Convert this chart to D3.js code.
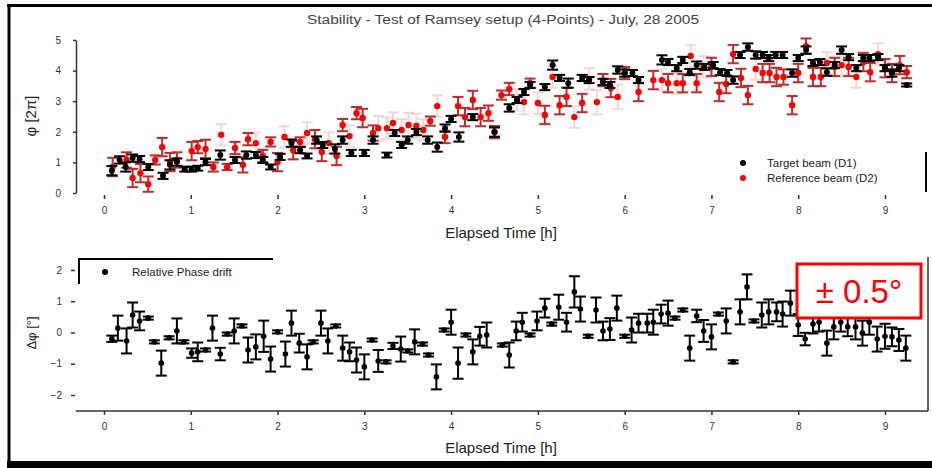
<html>
<head>
  <meta charset="utf-8"/>
  <title>Stability</title>
  <style>
    body { margin: 0; background: #fff; }
    svg text { font-family: "Liberation Sans", Arial, sans-serif; }
  </style>
</head>
<body>
  <svg id="chart" width="932" height="468"></svg>

  <script src="https://d3js.org/d3.v7.min.js"></script>
  <script>

  //top panel, target beam (D1): time [h], value, error
  var blackT = [0.09,0.18,0.25,0.33,0.41,0.51,0.68,0.76,0.84,0.93,1.01,1.08,1.17,1.34,1.51,1.64,1.75,1.83,1.92,2.03,2.16,2.26,2.34,2.45,2.52,2.66,2.75,2.85,3.00,3.10,3.26,3.35,3.43,3.50,3.60,3.73,3.84,3.93,4.00,4.09,4.25,4.50,4.67,4.76,4.84,4.91,5.08,5.17,5.25,5.35,5.51,5.59,5.75,5.83,5.92,6.00,6.09,6.16,6.43,6.50,6.60,6.67,6.75,6.83,6.92,7.02,7.10,7.18,7.25,7.33,7.42,7.51,7.59,7.66,7.74,7.82,7.93,8.00,8.09,8.17,8.25,8.33,8.42,8.50,8.58,8.67,8.75,8.82,8.92,9.00,9.08,9.16,9.25];
  var blackV = [0.73,1.08,0.85,1.14,1.11,0.85,0.56,0.92,1.01,0.78,0.78,0.81,1.01,1.24,1.08,1.24,1.24,1.08,0.85,1.18,1.63,1.40,1.21,1.73,1.57,1.44,1.73,1.31,1.31,1.73,1.24,1.96,1.57,1.73,1.99,1.73,1.50,2.12,2.42,1.83,2.48,1.99,2.78,3.04,3.30,3.53,3.46,4.18,3.76,3.59,3.76,3.69,3.63,3.53,4.02,3.92,3.92,3.69,4.35,4.28,4.08,4.35,3.95,4.18,4.12,4.18,3.95,3.92,3.69,4.51,4.77,4.51,4.51,4.41,4.51,4.51,3.92,4.41,4.67,4.25,4.28,3.95,4.18,4.67,4.44,4.08,4.41,4.41,4.44,4.08,3.92,4.08,3.53];
  var blackE = [0.15,0.12,0.15,0.12,0.10,0.10,0.10,0.15,0.12,0.08,0.08,0.08,0.10,0.15,0.10,0.12,0.10,0.10,0.08,0.10,0.12,0.10,0.08,0.12,0.10,0.15,0.12,0.10,0.10,0.12,0.08,0.10,0.10,0.12,0.10,0.12,0.15,0.12,0.10,0.15,0.10,0.15,0.12,0.10,0.10,0.10,0.10,0.15,0.10,0.15,0.10,0.10,0.10,0.10,0.12,0.12,0.10,0.10,0.15,0.10,0.10,0.10,0.10,0.12,0.10,0.10,0.10,0.10,0.12,0.10,0.12,0.12,0.10,0.10,0.10,0.10,0.12,0.10,0.12,0.10,0.10,0.12,0.10,0.12,0.10,0.10,0.10,0.10,0.10,0.10,0.12,0.10,0.05];

  //top panel, reference beam (D2)
  var redT = [0.10,0.26,0.33,0.42,0.51,0.59,0.67,0.76,0.84,1.01,1.08,1.17,1.26,1.35,1.42,1.51,1.60,1.66,1.75,1.83,1.92,2.00,2.08,2.18,2.26,2.34,2.43,2.51,2.59,2.68,2.75,2.83,2.91,2.98,3.10,3.16,3.26,3.33,3.43,3.51,3.60,3.68,3.76,3.84,3.93,4.08,4.16,4.25,4.34,4.43,4.50,4.58,4.67,4.76,4.84,4.91,5.00,5.08,5.17,5.25,5.33,5.42,5.51,5.59,5.68,5.75,5.84,5.92,6.00,6.16,6.33,6.43,6.50,6.60,6.67,6.76,6.83,6.91,7.00,7.09,7.17,7.25,7.34,7.42,7.51,7.59,7.67,7.75,7.83,7.93,8.00,8.09,8.17,8.26,8.33,8.42,8.50,8.58,8.67,8.75,8.83,8.92,9.00,9.08,9.17,9.25];
  var redV = [0.85,1.08,0.49,0.65,0.29,1.08,1.50,1.01,1.08,1.37,1.50,1.44,0.85,1.90,0.85,1.47,0.92,1.76,1.63,1.21,1.67,1.01,1.83,1.40,1.67,1.96,1.76,1.34,1.63,1.21,2.22,1.86,2.61,2.45,1.96,2.12,2.12,2.29,2.06,2.22,2.19,2.06,2.35,2.84,1.83,2.84,2.48,3.04,2.48,2.61,1.99,3.20,3.40,3.04,2.97,3.59,2.94,2.55,3.79,2.87,3.14,2.48,2.94,3.73,2.97,3.69,3.43,3.14,3.92,3.30,3.69,3.69,3.59,3.59,3.59,4.48,3.59,4.12,4.12,3.30,3.56,4.54,3.76,3.20,4.05,3.92,3.92,3.79,3.79,2.87,3.92,4.80,3.79,3.79,4.25,4.12,4.18,4.12,3.79,4.28,3.95,4.54,4.08,3.92,4.18,3.95];
  var redE = [0.30,0.25,0.30,0.30,0.25,0.15,0.30,0.30,0.25,0.30,0.20,0.30,0.15,0.35,0.10,0.20,0.25,0.20,0.35,0.20,0.15,0.30,0.35,0.30,0.15,0.35,0.30,0.30,0.35,0.30,0.20,0.35,0.20,0.30,0.25,0.40,0.35,0.35,0.35,0.40,0.40,0.35,0.15,0.35,0.20,0.30,0.30,0.30,0.30,0.25,0.20,0.15,0.20,0.35,0.40,0.15,0.35,0.30,0.35,0.30,0.30,0.35,0.30,0.35,0.40,0.20,0.30,0.40,0.20,0.30,0.30,0.35,0.30,0.35,0.30,0.35,0.30,0.35,0.30,0.30,0.30,0.30,0.30,0.30,0.35,0.30,0.30,0.30,0.25,0.30,0.30,0.25,0.30,0.30,0.35,0.30,0.35,0.30,0.35,0.30,0.30,0.35,0.30,0.30,0.30,0.20];

  //bottom panel, relative phase drift [deg]
  var driftT = [0.09,0.16,0.26,0.33,0.41,0.51,0.58,0.66,0.75,0.84,0.92,1.01,1.08,1.17,1.25,1.34,1.42,1.50,1.59,1.66,1.75,1.84,1.92,2.00,2.09,2.16,2.25,2.34,2.41,2.50,2.58,2.67,2.75,2.83,2.91,3.00,3.09,3.16,3.25,3.33,3.42,3.50,3.58,3.67,3.74,3.83,3.92,4.00,4.08,4.17,4.25,4.33,4.41,4.59,4.67,4.75,4.82,4.91,4.99,5.08,5.16,5.24,5.33,5.42,5.49,5.58,5.67,5.75,5.83,5.91,6.00,6.08,6.16,6.26,6.33,6.42,6.50,6.58,6.67,6.75,6.83,6.91,7.00,7.08,7.17,7.25,7.33,7.41,7.49,7.58,7.66,7.75,7.82,7.91,8.00,8.08,8.17,8.24,8.33,8.41,8.49,8.57,8.66,8.74,8.82,8.91,9.00,9.08,9.16,9.24];
  var driftV = [-0.20,0.14,-0.27,0.56,0.37,0.46,-0.30,-0.98,-0.17,0.05,-0.30,-0.66,-0.62,-0.56,0.14,-0.69,-0.05,0.05,0.21,-0.56,-0.46,-0.12,-0.85,0.02,-0.69,0.30,-0.34,-0.78,-0.30,0.30,-0.27,0.21,-0.50,-0.62,-0.88,-1.10,-0.24,-0.91,-0.94,-0.43,-0.53,-0.59,-0.30,-0.37,-0.72,-1.42,0.08,0.33,-0.98,-0.08,-0.62,-0.12,-0.08,-0.40,-0.72,0.05,0.33,-0.08,0.37,0.78,0.27,0.81,0.33,1.30,0.75,-0.12,0.72,0.05,0.11,0.78,-0.12,0.08,0.30,0.30,0.33,0.59,0.62,0.46,0.72,-0.50,0.53,0.05,-0.14,0.59,0.37,-0.94,0.66,1.46,0.37,0.56,0.66,0.66,0.59,0.94,0.24,-0.21,0.27,0.33,-0.34,0.18,0.33,0.18,0.18,-0.02,0.33,-0.21,-0.12,-0.14,-0.24,-0.50];
  var driftE = [0.10,0.40,0.40,0.40,0.30,0.05,0.05,0.40,0.05,0.40,0.05,0.15,0.30,0.05,0.40,0.20,0.05,0.40,0.05,0.40,0.40,0.50,0.40,0.05,0.40,0.40,0.30,0.40,0.05,0.40,0.40,0.05,0.40,0.30,0.40,0.40,0.05,0.35,0.05,0.10,0.40,0.05,0.40,0.05,0.05,0.40,0.05,0.40,0.50,0.05,0.40,0.30,0.40,0.05,0.40,0.30,0.30,0.05,0.30,0.30,0.05,0.40,0.30,0.50,0.40,0.05,0.40,0.30,0.35,0.40,0.05,0.40,0.30,0.30,0.40,0.30,0.40,0.05,0.05,0.40,0.20,0.35,0.40,0.05,0.40,0.05,0.40,0.40,0.05,0.40,0.40,0.30,0.40,0.40,0.35,0.20,0.30,0.30,0.40,0.40,0.30,0.30,0.40,0.40,0.40,0.40,0.40,0.30,0.35,0.40];

  var hourTicks = [0,1,2,3,4,5,6,7,8,9];
  var topTicks = [0,1,2,3,4,5];
  var driftTicks = [-2,-1,0,1,2];

  var svg = d3.select("#chart");

  //scales
  var x = d3.scaleLinear().domain([0, 9]).range([104, 885]);
  var yTop = d3.scaleLinear().domain([0, 5]).range([193, 40]);
  var yBot = d3.scaleLinear().domain([-2, 2]).range([395, 270]);

  function zip(t, v, e){
    return t.map(function(d, i){ return {t: d, v: v[i], e: e[i]}; });
  }

  //draws points with vertical error bars and caps
  function errorSeries(data, yScale, barColor, dotColor, dotR, faint){
    var g = svg.append("g");
    var bars = g.selectAll("g.eb").data(data).enter().append("g")
      .attr("class", "eb")
      .attr("stroke", barColor)
      .attr("stroke-width", 2)
      .attr("opacity", function(d){ return faint && d.e >= 0.35 ? 0.18 : 1; });
    bars.append("line")
      .attr("x1", function(d){ return x(d.t); })
      .attr("x2", function(d){ return x(d.t); })
      .attr("y1", function(d){ return yScale(d.v - d.e); })
      .attr("y2", function(d){ return yScale(d.v + d.e); });
    bars.append("line")
      .attr("x1", function(d){ return x(d.t) - 5.5; })
      .attr("x2", function(d){ return x(d.t) + 5.5; })
      .attr("y1", function(d){ return yScale(d.v + d.e); })
      .attr("y2", function(d){ return yScale(d.v + d.e); });
    bars.append("line")
      .attr("x1", function(d){ return x(d.t) - 5.5; })
      .attr("x2", function(d){ return x(d.t) + 5.5; })
      .attr("y1", function(d){ return yScale(d.v - d.e); })
      .attr("y2", function(d){ return yScale(d.v - d.e); });
    g.selectAll("circle").data(data).enter().append("circle")
      .attr("cx", function(d){ return x(d.t); })
      .attr("cy", function(d){ return yScale(d.v); })
      .attr("r", dotR)
      .attr("fill", dotColor);
  }

  //outer frame
  svg.append("line").attr("x1", 7).attr("x2", 932).attr("y1", 5.5).attr("y2", 5.5)
    .attr("stroke", "#000").attr("stroke-width", 3);
  svg.append("line").attr("x1", 9).attr("x2", 9).attr("y1", 4).attr("y2", 468)
    .attr("stroke", "#000").attr("stroke-width", 3);
  svg.append("line").attr("x1", 7).attr("x2", 932).attr("y1", 464.5).attr("y2", 464.5)
    .attr("stroke", "#000").attr("stroke-width", 7);

  //title
  svg.append("text")
    .attr("x", 307).attr("y", 24)
    .attr("textLength", 392).attr("lengthAdjust", "spacingAndGlyphs")
    .attr("font-size", "12px").attr("fill", "#444")
    .text("Stability - Test of Ramsey setup (4-Points) - July, 28 2005");

  // ---------- top panel ----------
  var gxTop = svg.append("g").attr("transform", "translate(0,195)")
    .call(d3.axisBottom(x).tickValues(hourTicks).tickSize(4).tickPadding(8).tickFormat(d3.format("d")));
  gxTop.select(".domain").remove();

  var gyTop = svg.append("g").attr("transform", "translate(76,0)")
    .call(d3.axisLeft(yTop).tickValues(topTicks).tickSize(3).tickSizeOuter(0).tickPadding(12).tickFormat(d3.format("d")));

  errorSeries(zip(redT, redV, redE), yTop, "#c42a2a", "#ff0000", 3.2, true);
  errorSeries(zip(blackT, blackV, blackE), yTop, "#000", "#000", 3, false);

  svg.append("text")
    .attr("transform", "translate(36,116) rotate(-90)")
    .attr("text-anchor", "middle").attr("font-size", "15px").attr("fill", "#222")
    .text("φ [2π]");

  svg.append("text")
    .attr("x", 501).attr("y", 238).attr("text-anchor", "middle")
    .attr("font-size", "15px").attr("fill", "#222")
    .text("Elapsed Time [h]");

  //top legend
  svg.append("circle").attr("cx", 743).attr("cy", 163).attr("r", 3).attr("fill", "#000");
  svg.append("circle").attr("cx", 743).attr("cy", 178).attr("r", 3).attr("fill", "#ff0000");
  svg.append("text").attr("x", 767).attr("y", 167).attr("font-size", "11.5px").attr("fill", "#222")
    .text("Target beam (D1)");
  svg.append("text").attr("x", 767).attr("y", 182).attr("font-size", "11.5px").attr("fill", "#222")
    .text("Reference beam (D2)");
  svg.append("line").attr("x1", 926).attr("x2", 926).attr("y1", 152).attr("y2", 192)
    .attr("stroke", "#000").attr("stroke-width", 2);

  // ---------- bottom panel ----------
  var gxBot = svg.append("g").attr("transform", "translate(0,411)")
    .call(d3.axisBottom(x).tickValues(hourTicks).tickSize(4).tickPadding(8).tickFormat(d3.format("d")));
  gxBot.select(".domain").remove();
  svg.append("line").attr("x1", 76).attr("x2", 928).attr("y1", 411).attr("y2", 411)
    .attr("stroke", "#333").attr("stroke-width", 1.5);
  svg.append("line").attr("x1", 928).attr("x2", 928).attr("y1", 257).attr("y2", 411)
    .attr("stroke", "#333").attr("stroke-width", 1.5);

  var gyBot = svg.append("g").attr("transform", "translate(75,0)")
    .call(d3.axisLeft(yBot).tickValues(driftTicks).tickSize(4).tickPadding(9).tickFormat(d3.format("d")));
  gyBot.select(".domain").remove();

  errorSeries(zip(driftT, driftV, driftE), yBot, "#000", "#000", 2.8, false);

  svg.append("text")
    .attr("transform", "translate(36,333) rotate(-90)")
    .attr("text-anchor", "middle").attr("font-size", "13px").attr("fill", "#222")
    .text("Δφ [°]");

  svg.append("text")
    .attr("x", 501).attr("y", 453).attr("text-anchor", "middle")
    .attr("font-size", "15px").attr("fill", "#222")
    .text("Elapsed Time [h]");

  //bottom legend
  svg.append("path").attr("d", "M79,284V259H273")
    .attr("fill", "none").attr("stroke", "#000").attr("stroke-width", 2);
  svg.append("circle").attr("cx", 105).attr("cy", 272).attr("r", 3).attr("fill", "#000");
  svg.append("text").attr("x", 132).attr("y", 276).attr("font-size", "11.5px").attr("fill", "#222")
    .text("Relative Phase drift");

  //annotation box
  svg.append("rect")
    .attr("x", 797).attr("y", 264).attr("width", 124).attr("height", 54)
    .attr("fill", "#fff").attr("stroke", "#ff0000").attr("stroke-width", 3);
  svg.append("text")
    .attr("x", 859).attr("y", 303).attr("text-anchor", "middle")
    .attr("font-size", "33px").attr("fill", "#ff0000")
    .text("± 0.5°");

  //tick styling
  svg.selectAll(".tick text").attr("font-size", "10px").attr("fill", "#333")
    .attr("font-family", "Liberation Sans, Arial, sans-serif");
  svg.selectAll(".tick line").attr("stroke", "#333").attr("stroke-width", 1.5);
  gyTop.select(".domain").attr("stroke", "#333").attr("stroke-width", 1.5);

  </script>
</body>
</html>
